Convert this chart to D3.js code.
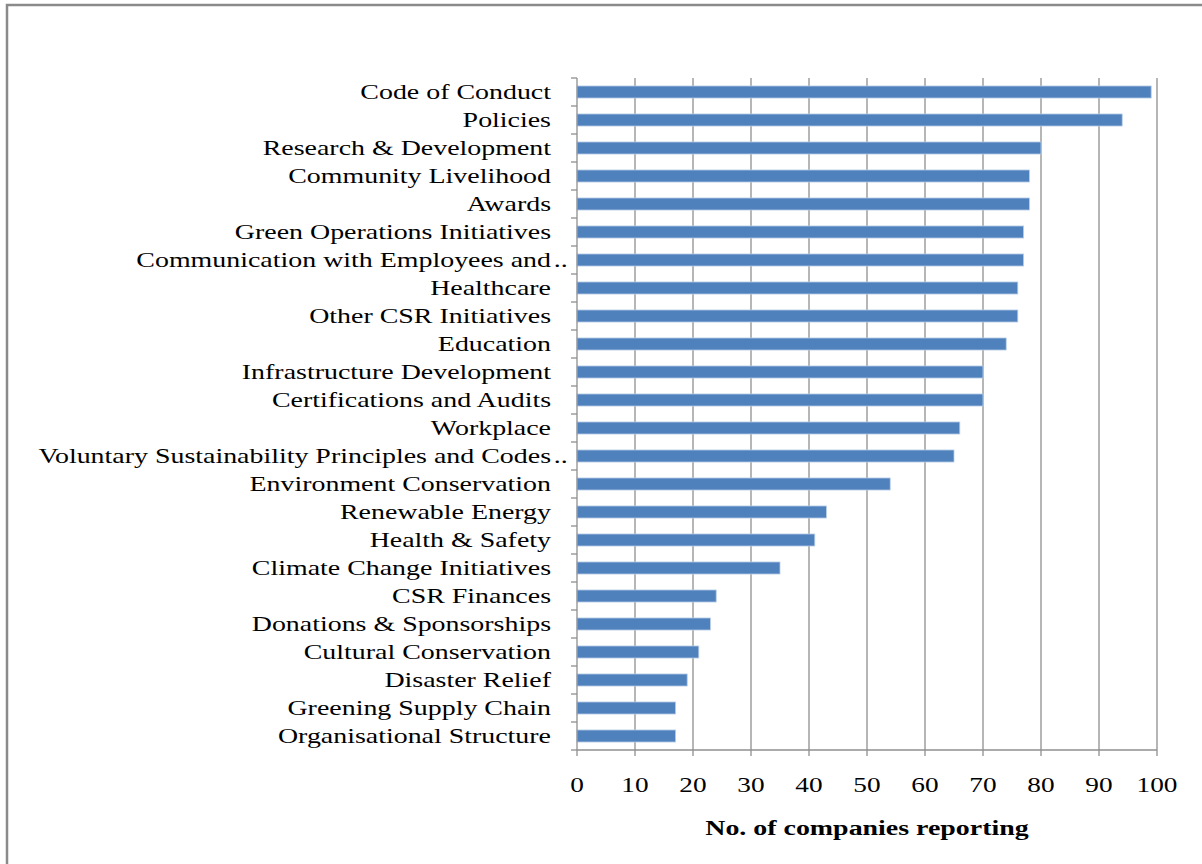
<!DOCTYPE html>
<html>
<head>
<meta charset="utf-8">
<script src="https://cdn.jsdelivr.net/npm/d3@7"></script>
<style>
  body { margin: 0; background: #fff; }
  text { font-family: "Liberation Serif", "Times New Roman", serif; fill: #000; }
</style>
</head>
<body>
<div id="chart"></div>
<script>
/* categories, top to bottom */
const categories = ["Code of Conduct", "Policies", "Research & Development", "Community Livelihood",
  "Awards", "Green Operations Initiatives", "Communication with Employees and ..", "Healthcare",
  "Other CSR Initiatives", "Education", "Infrastructure Development", "Certifications and Audits",
  "Workplace", "Voluntary Sustainability Principles and Codes ..", "Environment Conservation",
  "Renewable Energy", "Health & Safety", "Climate Change Initiatives", "CSR Finances",
  "Donations & Sponsorships", "Cultural Conservation", "Disaster Relief", "Greening Supply Chain",
  "Organisational Structure"];
const counts = [99, 94, 80, 78, 78, 77, 77, 76, 76, 74, 70, 70, 66, 65, 54, 43, 41, 35, 24, 23, 21, 19, 17, 17];
const xTicks = [0, 10, 20, 30, 40, 50, 60, 70, 80, 90, 100];
const xTitle = "No. of companies reporting";

const W = 1202, H = 864;
const margin = { top: 78, left: 577, right: 45, bottom: 114 };
const width = W - margin.left - margin.right,
      height = H - margin.top - margin.bottom;
const stretch = 1.33;   // labels in the picture are drawn wide

const svg = d3.select("#chart").append("svg")
    .attr("width", W).attr("height", H);

// frame: only top and left edges show
svg.append("path")
    .attr("d", `M7,${H} V5 H${W}`)
    .attr("fill", "none").attr("stroke", "#8a8a8a").attr("stroke-width", 2.5);

const g = svg.append("g").attr("transform", `translate(${margin.left},${margin.top})`);

const x = d3.scaleLinear().domain([0, 100]).range([0, width]);
const y = d3.scaleBand().domain(categories).range([0, height]).paddingInner(0.57).paddingOuter(0.285);

// vertical gridlines
g.append("g").selectAll("line").data(xTicks.slice(1)).join("line")
    .attr("x1", d => x(d)).attr("x2", d => x(d))
    .attr("y1", 0).attr("y2", height)
    .attr("stroke", "#8f8f8f").attr("stroke-width", 1.3);

// bars
g.append("g").selectAll("rect").data(counts).join("rect")
    .attr("x", 0)
    .attr("y", (d, i) => y(categories[i]))
    .attr("width", d => x(d))
    .attr("height", y.bandwidth())
    .attr("fill", "#4f81bd")
    .attr("stroke", "#b9cde5").attr("stroke-width", 0.8);

// y axis line + ticks at band edges
const yAxis = g.append("g");
yAxis.append("line").attr("x1", 0).attr("x2", 0).attr("y1", 0).attr("y2", height)
    .attr("stroke", "#8f8f8f").attr("stroke-width", 1.3);
yAxis.selectAll("line.tk").data(d3.range(categories.length + 1)).join("line")
    .attr("class", "tk")
    .attr("x1", -6).attr("x2", 0)
    .attr("y1", i => i * y.step()).attr("y2", i => i * y.step())
    .attr("stroke", "#8f8f8f").attr("stroke-width", 1.3);

// category labels
const lab = g.append("g").selectAll("g").data(categories).join("g")
    .attr("transform", d => `translate(-26,${y(d) + y.bandwidth() / 2 + 7}) scale(${stretch},1)`);
lab.append("text")
    .attr("text-anchor", "end")
    .attr("font-size", 21)
    .text(d => d.endsWith("..") ? d.slice(0, -3) : d);
lab.filter(d => d.endsWith("..")).append("text")
    .attr("x", 2)
    .attr("font-size", 21)
    .text("..");

// x axis
const xAxis = g.append("g").attr("transform", `translate(0,${height})`);
xAxis.append("line").attr("x1", 0).attr("x2", width)
    .attr("stroke", "#8f8f8f").attr("stroke-width", 1.3);
xAxis.selectAll("line.tk").data(xTicks).join("line")
    .attr("class", "tk")
    .attr("x1", d => x(d)).attr("x2", d => x(d))
    .attr("y1", 0).attr("y2", 6)
    .attr("stroke", "#8f8f8f").attr("stroke-width", 1.3);
xAxis.selectAll("g.tl").data(xTicks).join("g")
    .attr("class", "tl")
    .attr("transform", d => `translate(${x(d)},42) scale(1.3,1)`)
    .append("text")
    .attr("text-anchor", "middle")
    .attr("font-size", 21)
    .text(d => d);

svg.append("g")
    .attr("transform", `translate(${margin.left + x(50)},835) scale(1.33,1)`)
    .append("text")
    .attr("text-anchor", "middle")
    .attr("font-size", 21)
    .attr("font-weight", "bold")
    .text(xTitle);
</script>
</body>
</html>
